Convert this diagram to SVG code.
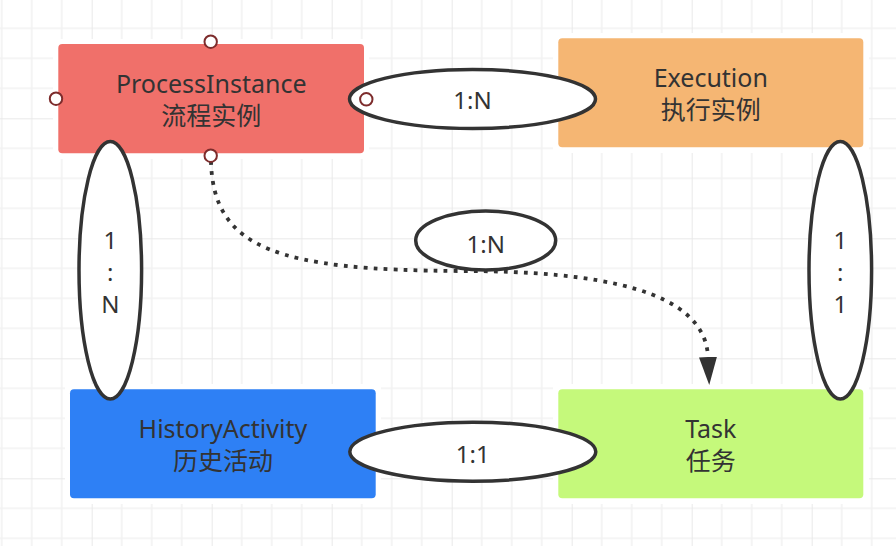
<svg xmlns="http://www.w3.org/2000/svg" width="896" height="546" viewBox="0 0 896 546">
  <defs>
    <pattern id="grid" patternUnits="userSpaceOnUse" x="91.7" y="118.3" width="120" height="120">
      <path d="M30,0V120M60,0V120M90,0V120M0,30H120M0,60H120M0,90H120" stroke="#f2f2f2" stroke-width="1.6" fill="none"/>
      <path d="M0,0V120M0,0H120" stroke="#e9e9e9" stroke-width="2" fill="none"/>
    </pattern>
    <marker id="arrow" markerUnits="userSpaceOnUse" markerWidth="28" markerHeight="20" viewBox="0 0 28 20" refX="0" refY="10" orient="auto">
      <path d="M0,1 L28,10 L0,19 Z" fill="#333"/>
    </marker>
    <style>
      .halo { fill: #fff; }
      .t { font-family: "Noto Sans", "Noto Sans CJK SC", sans-serif; font-size: 25px; fill: #333; text-anchor: middle; }
      .e { font-family: "Noto Sans", "Noto Sans CJK SC", sans-serif; font-size: 24px; fill: #333; text-anchor: middle; }
      .oval { fill: #fff; stroke: #333; stroke-width: 3.5; }
      .cp { fill: #fff; stroke: #7d2c2c; stroke-width: 2; }
      .conn { fill: none; stroke: #333; stroke-width: 3.8; stroke-dasharray: 3.8 6.2; }
    </style>
  </defs>

  <rect width="896" height="546" fill="#fff"/>
  <rect width="896" height="546" fill="url(#grid)"/>

  <g id="node-processinstance">
    <rect class="halo" x="53" y="39" width="316" height="120"/>
    <rect x="58.3" y="44" width="305.7" height="109.3" rx="4" fill="#f0706a"/>
    <text class="t" x="211.2" y="92.6">ProcessInstance</text>
    <text class="t" x="211.2" y="124.6">流程实例</text>
  </g>

  <g id="node-execution">
    <rect class="halo" x="553" y="33" width="316" height="120"/>
    <rect x="558.3" y="38.3" width="305" height="109" rx="4" fill="#f5b673"/>
    <text class="t" x="710.8" y="86.7">Execution</text>
    <text class="t" x="710.8" y="118.7">执行实例</text>
  </g>

  <g id="node-historyactivity">
    <rect class="halo" x="65" y="384" width="316" height="120"/>
    <rect x="70" y="389.3" width="305.7" height="109" rx="4" fill="#2e80f5"/>
    <text class="t" x="222.9" y="437.7">HistoryActivity</text>
    <text class="t" x="222.9" y="469.7">历史活动</text>
  </g>

  <g id="node-task">
    <rect class="halo" x="553" y="384" width="316" height="120"/>
    <rect x="558.3" y="389.3" width="305" height="109" rx="4" fill="#c5f97b"/>
    <text class="t" x="710.8" y="437.7">Task</text>
    <text class="t" x="710.8" y="469.7">任务</text>
  </g>

  <g id="label-pi-exec">
    <ellipse class="oval" cx="472.5" cy="99" rx="123" ry="29.5"/>
    <text class="e" x="472.5" y="108.5">1:N</text>
  </g>

  <g id="label-pi-history">
    <ellipse class="oval" cx="110.3" cy="270.3" rx="31.3" ry="128.7"/>
    <text class="e" x="110.3" y="249">1</text>
    <text class="e" x="110.3" y="281">:</text>
    <text class="e" x="110.3" y="312.7">N</text>
  </g>

  <g id="label-exec-task">
    <ellipse class="oval" cx="840.3" cy="270.3" rx="31.3" ry="128.7"/>
    <text class="e" x="840.3" y="249">1</text>
    <text class="e" x="840.3" y="281">:</text>
    <text class="e" x="840.3" y="312.7">1</text>
  </g>

  <g id="label-history-task">
    <ellipse class="oval" cx="472.8" cy="451.7" rx="123" ry="29.5"/>
    <text class="e" x="472.8" y="462.5">1:1</text>
  </g>

  <g id="label-pi-task">
    <ellipse class="oval" cx="485.7" cy="240.5" rx="70" ry="29.5"/>
    <text class="e" x="485.7" y="252.5">1:N</text>
  </g>

  <g id="connectors">
    <path class="conn" d="M211,161 C213,250 280,270 460,271 C600,271 705,290 708,357" marker-end="url(#arrow)"/>
  </g>

  <g id="connection-points">
    <circle class="cp" cx="210.7" cy="41.7" r="6.2"/>
    <circle class="cp" cx="56" cy="98.7" r="6.2"/>
    <circle class="cp" cx="366.3" cy="99.3" r="6.2"/>
    <circle class="cp" cx="210.7" cy="155.7" r="6.2"/>
  </g>
</svg>
